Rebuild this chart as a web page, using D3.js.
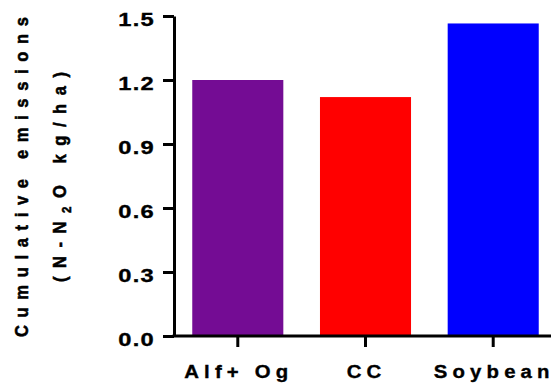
<!DOCTYPE html>
<html>
<head>
<meta charset="utf-8">
<script src="https://cdn.jsdelivr.net/npm/d3@7"></script>
<style>
  html, body { margin: 0; padding: 0; background: #fff; }
  svg { display: block; }
  text { font-family: "Liberation Sans", Arial, sans-serif; font-weight: bold; fill: #000; stroke: #000; stroke-width: 0.35px; }
</style>
</head>
<body>
<svg id="chart" width="551" height="387"></svg>
<script>
const categories = ["Alf+ Og", "CC", "Soybean"];
const values = [1.20, 1.12, 1.465];
const colors = ["#740c94", "#ff0000", "#0000ff"];
const yTicks = [0, 0.3, 0.6, 0.9, 1.2, 1.5];

const svg = d3.select("#chart");

const x = d3.scaleBand()
  .domain(categories)
  .range([174, 557])
  .paddingInner(0.287)
  .paddingOuter(0.143);

const y = d3.scaleLinear().domain([0, 1.5]).range([336, 16]);

// bars
svg.append("g")
  .selectAll("rect")
  .data(categories)
  .join("rect")
  .attr("x", d => x(d))
  .attr("width", x.bandwidth())
  .attr("y", (d, i) => y(values[i]))
  .attr("height", (d, i) => y(0) - y(values[i]))
  .attr("fill", (d, i) => colors[i]);

// y axis
const yAxis = svg.append("g")
  .attr("transform", "translate(174,0)")
  .call(d3.axisLeft(y).tickValues(yTicks).tickFormat(d3.format(".1f")).tickSize(11).tickPadding(6).tickSizeOuter(0));
yAxis.select(".domain").attr("stroke", "#000").attr("stroke-width", 3);
yAxis.selectAll(".tick line").attr("stroke", "#000").attr("stroke-width", 3);
yAxis.selectAll(".tick text")
  .attr("x", 0)
  .attr("dy", "0.5em")
  .attr("transform", "translate(-19,0) scale(1.28,1)")
  .style("font-size", "18.5px")
  .style("letter-spacing", "1px")
  .attr("fill", "#000");

// x axis
const xAxis = svg.append("g")
  .attr("transform", "translate(0,336)")
  .call(d3.axisBottom(x).tickSize(11).tickPadding(18).tickSizeOuter(0));
xAxis.select(".domain").attr("stroke", "#000").attr("stroke-width", 3)
  .attr("d", "M172.5,0H557");
xAxis.selectAll(".tick line").attr("stroke", "#000").attr("stroke-width", 3);
xAxis.selectAll(".tick text")
  .attr("y", 0)
  .attr("transform", "translate(1,29) scale(1.1,1)")
  .style("font-size", "18.5px")
  .style("letter-spacing", "4.7px")
  .attr("fill", "#000");

// y title
svg.append("text")
  .attr("transform", "translate(27.5,177) rotate(-90) scale(1,1.15)")
  .attr("text-anchor", "middle")
  .attr("textLength", 320)
  .attr("lengthAdjust", "spacing")
  .style("font-size", "16.5px")
  .style("stroke-width", "0.5px")
  .text("Cumulative emissions");

const t2 = svg.append("text")
  .attr("transform", "translate(65.5,177) rotate(-90) scale(1,1.15)")
  .attr("text-anchor", "middle")
  .attr("textLength", 210)
  .attr("lengthAdjust", "spacing")
  .style("font-size", "16.5px")
  .style("stroke-width", "0.5px");
t2.append("tspan").text("(N-N");
t2.append("tspan").attr("dy", 4.5).style("font-size", "11.5px").text("2");
t2.append("tspan").attr("dy", -4.5).text("O kg/ha)");
</script>
</body>
</html>
